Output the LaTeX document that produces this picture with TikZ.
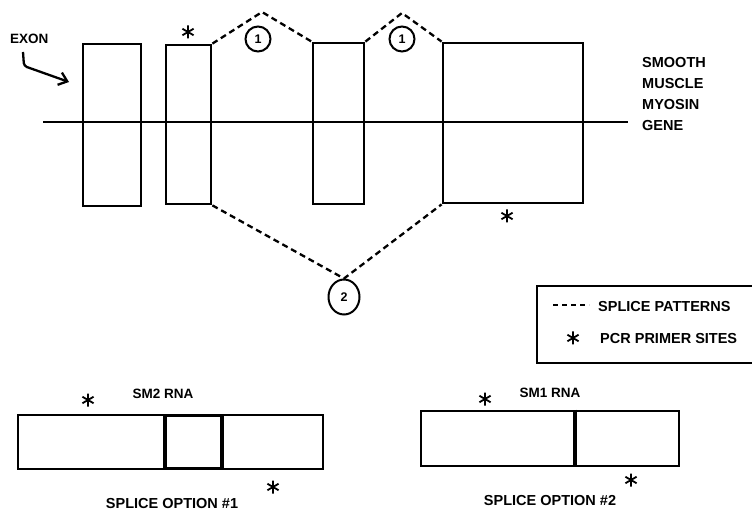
\documentclass[tikz,border=0pt]{standalone}
\usepackage{fontspec}
\setmainfont{Liberation Sans}[BoldFont={Liberation Sans Bold}]
\usetikzlibrary{arrows.meta,shapes.geometric}
\tikzset{
  exon/.style={draw, line width=2.8pt, rectangle, inner sep=0, minimum width=#1},
  rnabox/.style={draw, line width=2.8pt, rectangle, inner sep=0},
  splice/.style={line width=2.3pt, dash pattern=on 6pt off 4pt},
  lbl/.style={font=\bfseries\fontsize{14.5}{16}\selectfont, inner sep=0},
  slbl/.style={font=\bfseries\fontsize{13.5}{15}\selectfont, inner sep=0},
  numc/.style={draw, circle, line width=2pt, inner sep=0, minimum size=25pt, font=\bfseries\fontsize{12.5}{13}\selectfont},
  ast/.pic={\draw[line width=1.8pt] (0,-6.5)--(0,6.5) (-5.6,-3.25)--(5.6,3.25) (-5.6,3.25)--(5.6,-3.25);}
}
\begin{document}
\begin{tikzpicture}[x=1pt,y=-1pt]
\useasboundingbox (0,0) rectangle (752,510);
\clip (0,0) rectangle (752,510);
% gene line
\coordinate (gL) at (43,122);
\coordinate (gR) at (628,122);
\draw[line width=2.4pt] (gL) -- (gR);
% exons
\node[exon=58, minimum height=162] (e1) at (112,125) {};
\node[exon=45, minimum height=159] (e2) at (188.5,124.5) {};
\node[exon=51, minimum height=161] (e3) at (338.5,123.5) {};
\node[exon=140, minimum height=160] (e4) at (513,123) {};
% exon label and arrow
\node[slbl, anchor=base west] (exon) at (10,44) {EXON};
\coordinate (a0) at (23,52);
\coordinate (a2) at (69,82);
\draw[line width=2.3pt, rounded corners=3pt, -{Straight Barb[length=8pt,width=13pt]}] (a0) -- (24,66) -- (a2);
% gene label
\node[lbl, anchor=base west] (g1) at (642,68) {SMOOTH};
\node[lbl, anchor=base west] (g2) at (642,89) {MUSCLE};
\node[lbl, anchor=base west] (g3) at (642,110) {MYOSIN};
\node[lbl, anchor=base west] (g4) at (642,131) {GENE};
% splice patterns
\coordinate (p1) at (262,12);
\coordinate (p2) at (402,13);
\draw[splice] (e2.north east) -- (p1) -- (e3.north west);
\draw[splice] (e3.north east) -- (p2) -- (e4.north west);
\node[numc] (c1a) at (258,39) {1};
\node[numc] (c1b) at (402,39) {1};
\node[draw, ellipse, line width=2pt, inner sep=0, minimum width=31pt, minimum height=35pt, font=\bfseries\fontsize{12.5}{13}\selectfont] (c2) at (344,297) {2};
\draw[splice] (e2.south east) -- (c2.north) -- (e4.south west);
% primer sites on gene
\pic at (188,32) {ast};
\pic at (507,216) {ast};
% legend
\node[draw, line width=2.8pt, rectangle, inner sep=0, minimum width=225pt, minimum height=77pt] (legend) at (649.5,324.5) {};
\coordinate (d0) at (553,305);
\coordinate (d1) at (589,305);
\draw[line width=2.3pt, dash pattern=on 5pt off 4pt] (d0) -- (d1);
\node[lbl, anchor=base west] (lsp) at (598,312) {SPLICE PATTERNS};
\pic at (573,338) {ast};
\node[lbl, anchor=base west] (lpcr) at (600,344) {PCR PRIMER SITES};
% SM2 RNA
\node[rnabox, minimum width=147pt, minimum height=54pt] (r2a) at (91.5,442) {};
\node[rnabox, minimum width=101pt, minimum height=54pt] (r2c) at (272.5,442) {};
\node[rnabox, line width=3.6pt, minimum width=57pt, minimum height=53pt] (r2b) at (193.5,442) {};
\node[slbl, anchor=base] (sm2) at (163,399) {SM2 RNA};
\node[lbl, anchor=base] (so1) at (172,508) {SPLICE OPTION \#1};
\pic at (88,400) {ast};
\pic at (273,487) {ast};
% SM1 RNA
\node[rnabox, minimum width=153pt, minimum height=55pt] (r1a) at (497.5,438.5) {};
\node[rnabox, minimum width=105pt, minimum height=55pt] (r1b) at (626.5,438.5) {};
\draw[line width=3.8pt] (r1a.north east) -- (r1a.south east);
\node[slbl, anchor=base] (sm1) at (550,397) {SM1 RNA};
\node[lbl, anchor=base] (so2) at (550,505) {SPLICE OPTION \#2};
\pic at (485,399) {ast};
\pic at (631,480) {ast};
\end{tikzpicture}
\end{document}
